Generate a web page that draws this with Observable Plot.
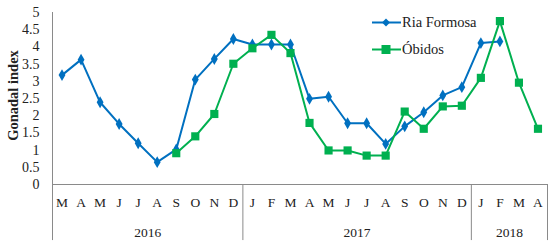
<!DOCTYPE html>
<html><head><meta charset="utf-8">
<script src="https://cdn.jsdelivr.net/npm/d3@7"></script>
<script src="https://cdn.jsdelivr.net/npm/@observablehq/plot@0.6"></script>
<style>
body{margin:0;background:#fff;}
#wrap{position:relative;width:550px;height:248px;font-family:"Liberation Serif","DejaVu Serif",serif;}
#legend{position:absolute;left:372px;top:9px;font-size:14.5px;color:#222;}
#legend div{display:flex;align-items:center;height:27px;}
#legend svg{margin-right:1px;}
</style></head>
<body><div id="wrap"><div id="legend"></div></div>
<script>
const months = ["M","A","M","J","J","A","S","O","N","D","J","F","M","A","M","J","J","A","S","O","N","D","J","F","M","A"];
const years = ["2016","2017","2018"];
const yearCenters = [4.5, 15.5, 23.5];
const yearBounds = [-0.5, 9.5, 21.5, 25.5];
const riaFormosa = [3.18,3.63,2.39,1.76,1.20,0.65,1.02,3.05,3.65,4.23,4.07,4.07,4.07,2.49,2.55,1.78,1.78,1.18,1.69,2.10,2.59,2.83,4.11,4.16,null,null];
const obidos = [null,null,null,null,null,null,0.91,1.40,2.05,3.51,3.96,4.35,3.82,1.79,0.99,0.99,0.84,0.84,2.12,1.62,2.27,2.29,3.10,4.75,2.96,1.62];
const seriesNames = ["Ria Formosa","Óbidos"];
const colors = ["#0070C0","#00B050"];

const ria = riaFormosa.map((v,i)=>({i,v})).filter(d=>d.v!=null);
const obi = obidos.map((v,i)=>({i,v})).filter(d=>d.v!=null);

const chart = Plot.plot({
  width:550, height:248,
  marginTop:12, marginBottom:64, marginLeft:52, marginRight:3,
  style:{fontFamily:"'Liberation Serif','DejaVu Serif',serif", fontSize:"13px", color:"#222"},
  x:{domain:[-0.5,25.5]},
  y:{domain:[0,5]},
  marks:[
    Plot.axisY({ticks:d3.range(0,5.01,0.5), tickSize:0, tickPadding:13, tickFormat:d=>String(d), label:null, fontSize:14}),
    Plot.axisX({ticks:d3.range(0,26), tickSize:0, tickPadding:13, tickFormat:i=>months[i], label:null, fontSize:13.5}),
    Plot.ruleY([0], {stroke:"#8a8a8a", strokeWidth:1}),
    Plot.ruleX([-0.5], {y1:5, y2:-1.63, stroke:"#8a8a8a"}),
    Plot.ruleX(yearBounds.slice(1), {y1:0, y2:-1.63, stroke:"#8a8a8a"}),
    Plot.text(years, {x:(d,k)=>yearCenters[k], y:0, dy:48, fontSize:13.5}),
    Plot.text(["Gonadal index"], {frameAnchor:"left", textAnchor:"middle", rotate:-90, dx:-39, dy:-3, fontWeight:"bold", fontSize:14.5}),
    Plot.line(ria, {x:"i", y:"v", stroke:colors[0], strokeWidth:2}),
    Plot.dot(ria, {x:"i", y:"v", symbol:"diamond", r:3.6, fill:colors[0]}),
    Plot.line(obi, {x:"i", y:"v", stroke:colors[1], strokeWidth:2}),
    Plot.dot(obi, {x:"i", y:"v", symbol:"square", r:4.6, fill:colors[1]})
  ]
});
document.getElementById("wrap").prepend(chart);

const leg = document.getElementById("legend");
seriesNames.forEach((n,k)=>{
  const row = document.createElement("div");
  const sym = k===0
    ? `<polygon points="14,0.5 18,4.5 14,8.5 10,4.5" fill="${colors[k]}"/>`
    : `<rect x="9.5" y="0" width="9" height="9" fill="${colors[k]}"/>`;
  row.innerHTML = `<svg width="29" height="9"><line x1="0" x2="29" y1="4.5" y2="4.5" stroke="${colors[k]}" stroke-width="2"/>${sym}</svg><span>${n}</span>`;
  leg.appendChild(row);
});
</script></body></html>
